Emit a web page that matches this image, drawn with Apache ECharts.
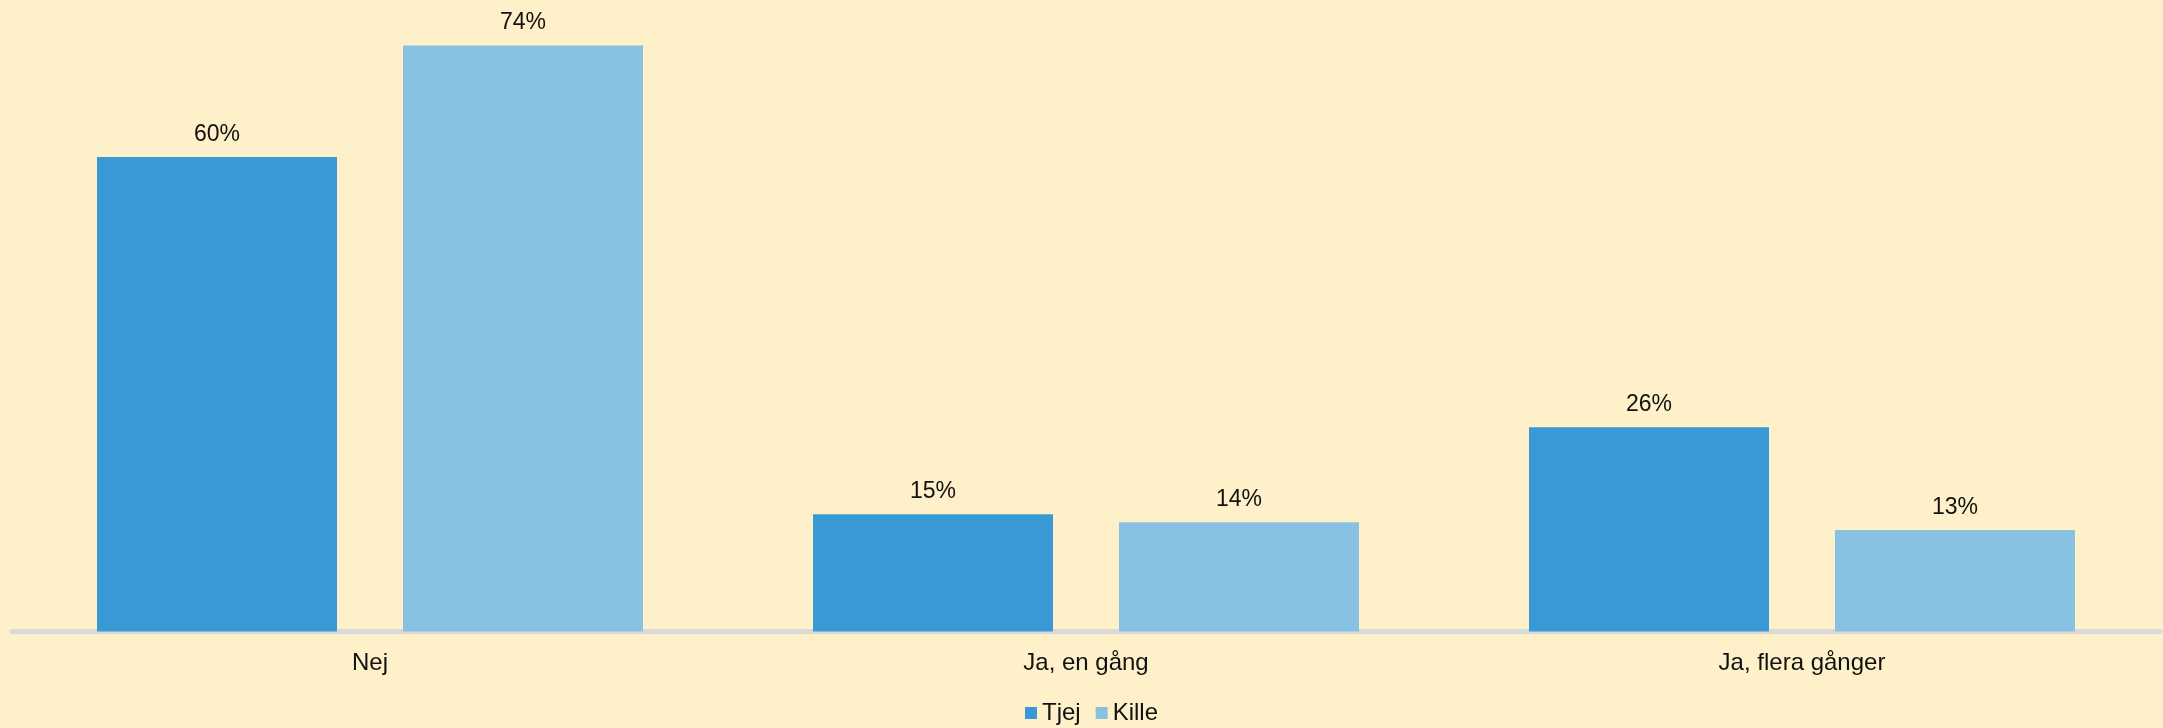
<!DOCTYPE html>
<html>
<head>
<meta charset="utf-8">
<script src="https://cdn.jsdelivr.net/npm/echarts@6/dist/echarts.min.js"></script>
<style>
html,body{margin:0;padding:0;background:#FEF0C8;}
#c{width:2163px;height:728px;}
</style>
</head>
<body>
<div id="c"></div>
<script>
const categories = ['Nej', 'Ja, en gång', 'Ja, flera gånger'];
const seriesNames = ['Tjej', 'Kille'];
const tjej = [59.9, 14.8, 25.8];
const kille = [74.0, 13.8, 12.8];

const chart = echarts.init(document.getElementById('c'));
const font = 'Arial, "Liberation Sans", sans-serif';
const labelCfg = {
  show: true, position: 'top', distance: 11,
  color: '#111', fontSize: 23, fontFamily: font,
  formatter: p => Math.round(p.value) + '%'
};
chart.setOption({
  backgroundColor: '#FEF0C8',
  animation: false,
  grid: { left: 12, right: 3, top: 37.5, bottom: 96.5, containLabel: false },
  legend: {
    data: seriesNames, top: 701, left: 1025, padding: 0,
    icon: 'rect', itemWidth: 12, itemHeight: 12, itemGap: 15,
    textStyle: { color: '#111', fontSize: 24, fontFamily: font }
  },
  xAxis: {
    type: 'category', data: categories,
    axisLine: { show: true, lineStyle: { color: '#D9D9D9', width: 5 } },
    axisTick: { show: false },
    axisLabel: { color: '#111', fontSize: 24, fontFamily: font, margin: 20 }
  },
  yAxis: {
    type: 'value', min: 0, max: 75, show: false,
    splitLine: { show: false }
  },
  series: [
    { name: seriesNames[0], type: 'bar', data: tjej, barWidth: 240, barGap: '27.5%',
      itemStyle: { color: '#3899D5' }, label: labelCfg },
    { name: seriesNames[1], type: 'bar', data: kille, barWidth: 240,
      itemStyle: { color: '#89C1E3' }, label: labelCfg }
  ]
});
</script>
</body>
</html>
